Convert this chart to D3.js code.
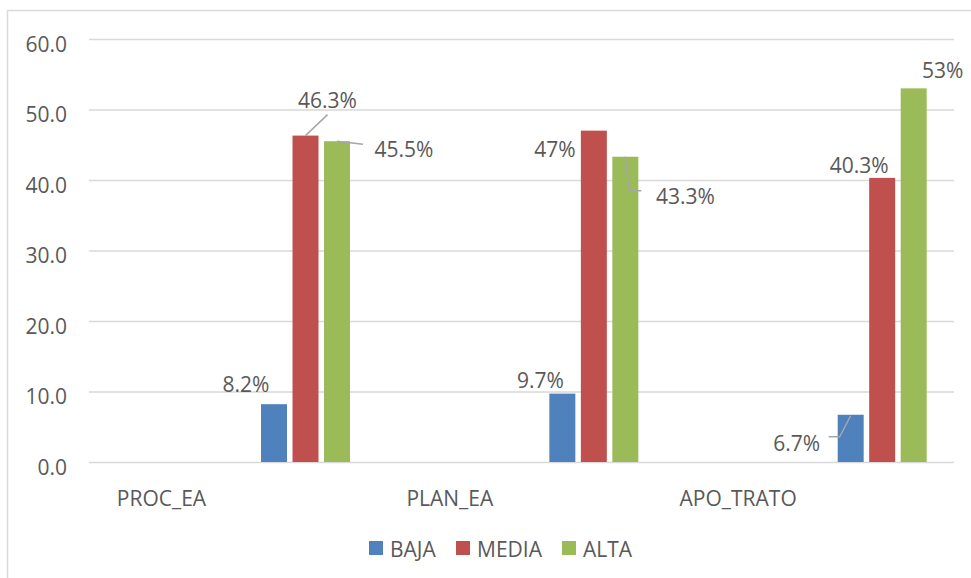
<!DOCTYPE html>
<html>
<head>
<meta charset="utf-8">
<script src="https://cdn.jsdelivr.net/npm/d3@7"></script>
<style>
  body { margin: 0; background: #fff; }
  text { font-family: "Open Sans", sans-serif; fill: #595959; }
</style>
</head>
<body>
<svg id="chart" width="971" height="578"></svg>
<script>
// data
const categories = ["PROC_EA", "PLAN_EA", "APO_TRATO"];
const seriesNames = ["BAJA", "MEDIA", "ALTA"];
const baja = [8.2, 9.7, 6.7];
const media = [46.3, 47, 40.3];
const alta = [45.5, 43.3, 53];
const bajaLabels = ["8.2%", "9.7%", "6.7%"];
const mediaLabels = ["46.3%", "47%", "40.3%"];
const altaLabels = ["45.5%", "43.3%", "53%"];
const yTicks = [0, 10, 20, 30, 40, 50, 60];

const colors = ["#4F81BD", "#C0504D", "#9BBB59"];

// label placement (offset of the label centre from the top centre of its bar)
// and optional leader lines, same order as the series / categories
const labelPos = [
  [{dx: -28, dy: -20}, {dx: -22, dy: -14}, {dx: -54, dy: 28, lead: [[0, 1], [-11, 22], [-22, 22]]}],
  [{dx: 22, dy: -36, lead: [[0, 0], [22, -21]]}, {dx: -39, dy: 18}, {dx: -23, dy: -13}],
  [{dx: 67, dy: 8, lead: [[0, 0], [26, 3]]}, {dx: 60, dy: 39, lead: [[0, 0], [4, 34], [16, 34]]}, {dx: 29, dy: -18}]
];

const seriesValues = [baja, media, alta];
const seriesLabels = [bajaLabels, mediaLabels, altaLabels];

const svg = d3.select("#chart");
const plotLeft = 89, plotRight = 954, plotTop = 39, plotBottom = 462;
const fontSize = 21;

// chart frame
svg.append("rect")
  .attr("x", 7.5).attr("y", 10.5)
  .attr("width", 1000).attr("height", 600)
  .attr("fill", "none")
  .attr("stroke", "#d9d9d9")
  .attr("stroke-width", 1.5);

const x0 = d3.scaleBand()
  .domain(categories)
  .range([plotLeft, plotRight])
  .padding(0);

const bw = x0.bandwidth();
const x1 = d3.scaleBand()
  .domain(seriesNames)
  .range([bw * 0.5966, bw * 0.9052])
  .paddingInner(0.175)
  .paddingOuter(0);

const y = d3.scaleLinear()
  .domain([0, 60])
  .range([plotBottom, plotTop]);

// y axis with grid lines
const yAxis = svg.append("g")
  .attr("transform", "translate(" + plotLeft + ",0)")
  .call(d3.axisLeft(y)
    .tickValues(yTicks)
    .tickSize(-(plotRight - plotLeft))
    .tickPadding(22)
    .tickFormat(d3.format(".1f")));

yAxis.select(".domain").remove();
yAxis.selectAll(".tick line")
  .attr("stroke", "#d9d9d9")
  .attr("stroke-width", 1.5);
yAxis.selectAll(".tick text")
  .attr("font-size", fontSize)
  .attr("font-family", null)
  .attr("fill", "#595959")
  .attr("dy", null)
  .attr("y", 4)
  .attr("dominant-baseline", "central");

// category labels
svg.append("g")
  .selectAll("text")
  .data(categories)
  .enter()
  .append("text")
  .attr("x", d => x0(d) + 72.5)
  .attr("y", 498)
  .attr("text-anchor", "middle")
  .attr("dominant-baseline", "central")
  .attr("font-size", fontSize)
  .text(d => d);

// bars
seriesNames.forEach((s, si) => {
  const g = svg.append("g");
  g.selectAll("rect")
    .data(seriesValues[si])
    .enter()
    .append("rect")
    .attr("x", (d, i) => x0(categories[i]) + x1(s))
    .attr("y", d => y(d))
    .attr("width", x1.bandwidth())
    .attr("height", d => y(0) - y(d))
    .attr("fill", colors[si]);

  // leader lines and data labels
  seriesValues[si].forEach((v, i) => {
    const cx = x0(categories[i]) + x1(s) + x1.bandwidth() / 2;
    const ty = y(v);
    const p = labelPos[si][i];
    if (p.lead) {
      g.append("path")
        .attr("d", d3.line()(p.lead.map(q => [cx + q[0], ty + q[1]])))
        .attr("fill", "none")
        .attr("stroke", "#a6a6a6")
        .attr("stroke-width", 1.5);
    }
    g.append("text")
      .attr("x", cx + p.dx)
      .attr("y", ty + p.dy)
      .attr("text-anchor", "middle")
      .attr("dominant-baseline", "central")
      .attr("font-size", fontSize)
      .text(seriesLabels[si][i]);
  });
});

// legend
const legendX = [369, 456, 562];
const legend = svg.append("g");
seriesNames.forEach((s, i) => {
  legend.append("rect")
    .attr("x", legendX[i]).attr("y", 541)
    .attr("width", 14).attr("height", 14)
    .attr("fill", colors[i]);
  legend.append("text")
    .attr("x", legendX[i] + 21)
    .attr("y", 549)
    .attr("dominant-baseline", "central")
    .attr("font-size", fontSize)
    .text(s);
});
</script>
</body>
</html>
